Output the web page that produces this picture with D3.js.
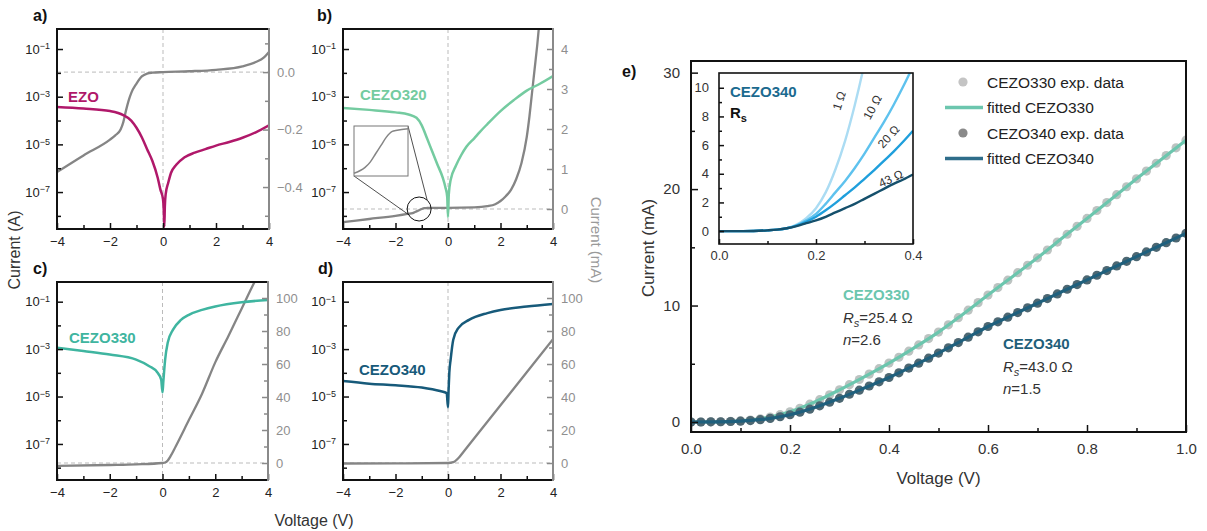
<!DOCTYPE html>
<html>
<head>
<meta charset="utf-8">
<script src="https://cdn.jsdelivr.net/npm/d3@7"></script>
<style>
  body { margin: 0; background: #fff; }
  svg text { font-family: "Liberation Sans", Arial, Helvetica, sans-serif; }
</style>
</head>
<body>
<svg id="fig" width="1207" height="531"></svg>
<script>

// ---- panel a) EZO ----
var voltA_log = [-4, -3, -2, -1.5, -1.2, -1, -0.8, -0.6, -0.4, -0.2, -0.1, 0, 0.03, 0.05, 0.07, 0.1, 0.2, 0.3, 0.5, 0.8, 1.2, 1.6, 2, 2.5, 3, 3.5, 4];
var ezoCurrent = [3.7e-4, 3.2e-4, 2.5e-4, 1.7e-4, 1.0e-4, 5.0e-5, 2.0e-5, 6.3e-6, 2.0e-6, 4.0e-7, 1.3e-7, 5.0e-8, 1.6e-8, 3.5e-9, 2.5e-8, 8.0e-8, 2.5e-7, 6.3e-7, 1.4e-6, 2.8e-6, 4.5e-6, 6.3e-6, 8.9e-6, 1.26e-5, 1.9e-5, 3.2e-5, 6.3e-5];
var voltA_lin = [-4, -3, -2, -1.8, -1.6, -1.5, -1.4, -1.3, -1.2, -1, -0.8, -0.6, -0.4, 0, 1, 2, 3, 3.5, 3.8, 4];
var ezoLinear = [-0.348, -0.29, -0.235, -0.22, -0.2, -0.175, -0.135, -0.1, -0.073, -0.04, -0.015, -0.005, -0.002, 0, 0.003, 0.008, 0.02, 0.035, 0.05, 0.07];

// ---- panel b) CEZO320 ----
var voltB_log = [-4, -3, -2, -1.5, -1.2, -1, -0.8, -0.6, -0.4, -0.2, -0.1, -0.03, 0, 0.03, 0.1, 0.3, 0.5, 0.7, 1, 1.2, 1.5, 2, 2.5, 3, 3.5, 4];
var cezo320Current = [3.4e-4, 2.8e-4, 2.2e-4, 1.8e-4, 1.3e-4, 6.3e-5, 1.8e-5, 5.0e-6, 1.4e-6, 4.0e-7, 1.6e-7, 6.3e-8, 9e-9, 8e-8, 3.2e-7, 1.26e-6, 3.5e-6, 7.9e-6, 1.8e-5, 3.2e-5, 7.1e-5, 2.5e-4, 7.1e-4, 1.8e-3, 3.5e-3, 7.4e-3];
var voltB_lin = [-4, -3, -2, -1.6, -1.4, -1.3, -1.2, -1.1, -1, -0.9, -0.8, -0.6, 0, 1, 1.5, 1.8, 2, 2.2, 2.4, 2.6, 2.8, 3, 3.1, 3.2, 3.3, 3.4, 3.5];
var cezo320Linear = [-0.33, -0.25, -0.17, -0.13, -0.11, -0.09, -0.06, -0.03, 0, 0.02, 0.025, 0.03, 0.03, 0.04, 0.07, 0.12, 0.2, 0.32, 0.48, 0.75, 1.15, 1.8, 2.3, 2.9, 3.5, 4.1, 4.8];

// ---- panel c) CEZO330 ----
var voltC_log = [-4, -3, -2, -1, -0.5, -0.2, -0.05, 0, 0.03, 0.06, 0.1, 0.2, 0.4, 0.7, 1, 1.5, 2, 3, 4];
var cezo330Current = [1.15e-3, 8.3e-4, 5.9e-4, 3.6e-4, 1.9e-4, 1.05e-4, 5.2e-5, 1.5e-5, 4.0e-5, 1.1e-4, 3.6e-4, 1.9e-3, 6.6e-3, 1.7e-2, 2.8e-2, 4.5e-2, 6.3e-2, 9.5e-2, 1.17e-1];
var voltC_lin = [-4, -2, -1, 0, 0.1, 0.2, 0.3, 0.5, 1, 1.5, 2, 2.5, 3, 3.5, 3.7];
var cezo330Linear = [-1.8, -1.2, -0.8, 0, 0.3, 1.5, 4, 10, 26, 42, 61, 77, 93.5, 110, 116];

// ---- panel d) CEZO340 ----
var voltD_log = [-4, -3, -2, -1, -0.3, -0.05, 0, 0.02, 0.05, 0.1, 0.2, 0.4, 0.8, 1.5, 2, 3, 4];
var cezo340Current = [4.5e-5, 3.5e-5, 3.0e-5, 2.4e-5, 1.7e-5, 1.4e-5, 3.5e-6, 1.6e-5, 1.0e-4, 3.6e-4, 2.5e-3, 7.9e-3, 1.7e-2, 3.3e-2, 4.5e-2, 6.2e-2, 7.9e-2];
var voltD_lin = [-4, -2, 0, 0.2, 0.4, 0.6, 1, 2, 3, 4];
var cezo340Linear = [-0.3, -0.2, 0, 0.5, 3, 7, 15, 35, 55, 75];

// ---- panel e) fits ----
var expVolt = [0, 0.02, 0.04, 0.06, 0.08, 0.1, 0.12, 0.14, 0.16, 0.18, 0.2, 0.22, 0.24, 0.26, 0.28, 0.3, 0.32, 0.34, 0.36, 0.38, 0.4,
  0.42, 0.44, 0.46, 0.48, 0.5, 0.52, 0.54, 0.56, 0.58, 0.6, 0.62, 0.64, 0.66, 0.68, 0.7, 0.72, 0.74, 0.76, 0.78, 0.8,
  0.82, 0.84, 0.86, 0.88, 0.9, 0.92, 0.94, 0.96, 0.98, 1.0];
var exp330 = [0, 0, 0.01, 0.02, 0.05, 0.1, 0.17, 0.28, 0.43, 0.63, 0.88, 1.18, 1.53, 1.92, 2.33, 2.76, 3.2, 3.65, 4.11, 4.58, 5.06,
  5.56, 6.08, 6.62, 7.16, 7.72, 8.34, 8.96, 9.6, 10.25, 10.9, 11.54, 12.18, 12.82, 13.46, 14.1, 14.77, 15.45, 16.12, 16.8, 17.48,
  18.16, 18.84, 19.52, 20.2, 20.88, 21.55, 22.22, 22.88, 23.54, 24.2];
var exp340 = [0, 0, 0.01, 0.02, 0.04, 0.07, 0.12, 0.2, 0.31, 0.45, 0.62, 0.84, 1.1, 1.39, 1.7, 2.03, 2.38, 2.73, 3.09, 3.45, 3.82,
  4.22, 4.63, 5.05, 5.48, 5.92, 6.37, 6.82, 7.28, 7.74, 8.2, 8.6, 9.0, 9.4, 9.8, 10.2, 10.6, 11.0, 11.4, 11.8, 12.2,
  12.6, 13.0, 13.4, 13.8, 14.2, 14.6, 15.0, 15.4, 15.8, 16.2];
var fitVolt = [0, 0.05, 0.1, 0.15, 0.2, 0.25, 0.3, 0.35, 0.4, 0.45, 0.5, 0.55, 0.6, 0.65, 0.7, 0.75, 0.8, 0.85, 0.9, 0.95, 1.0];
var fit330 = [0, 0.01, 0.1, 0.35, 0.88, 1.72, 2.76, 3.88, 5.06, 6.35, 7.72, 9.28, 10.9, 12.5, 14.1, 15.79, 17.48, 19.18, 20.88, 22.55, 24.2];
var fit340 = [0, 0.01, 0.07, 0.25, 0.62, 1.24, 2.03, 2.91, 3.82, 4.84, 5.92, 7.05, 8.2, 9.2, 10.2, 11.2, 12.2, 13.2, 14.2, 15.2, 16.2];

// inset: simulated CEZO340 for several series resistances
var insetVolt = [0, 0.05, 0.1, 0.12, 0.14, 0.16, 0.18, 0.2, 0.22, 0.24, 0.26, 0.28, 0.3, 0.32, 0.34, 0.36, 0.38, 0.4];
var rs1 = [0, 0, 0.05, 0.1, 0.2, 0.45, 0.9, 1.6, 2.7, 4.3, 6.3, 8.8, 11.7, 15, 18.5, 22, 26, 30];
var rs10 = [0, 0, 0.05, 0.1, 0.2, 0.4, 0.75, 1.2, 1.9, 2.7, 3.5, 4.4, 5.4, 6.5, 7.6, 8.8, 10.1, 11.5];
var rs20 = [0, 0, 0.05, 0.1, 0.2, 0.38, 0.65, 1.0, 1.45, 1.95, 2.5, 3.05, 3.65, 4.25, 4.9, 5.55, 6.25, 7.0];
var rs43 = [0, 0, 0.05, 0.1, 0.2, 0.35, 0.55, 0.75, 1.0, 1.3, 1.6, 1.9, 2.25, 2.6, 2.95, 3.3, 3.6, 3.95];
var rsLabels = ['1 Ω', '10 Ω', '20 Ω', '43 Ω'];
var rsColors = ['#abdcf3', '#5ec2ee', '#1f9fdc', '#15506c'];

var GREY = '#8a8a8a';
var svg = d3.select('#fig');

function minus(v) { return v < 0 ? '\u2212' + (-v) : '' + v; }

function styleAxis(a, color, size) {
  a.attr('font-family', null).attr('font-size', null);
  a.select('.domain').remove();
  a.selectAll('.tick line').attr('stroke', color).attr('stroke-width', 1.5);
  a.selectAll('.tick text').attr('fill', color === GREY ? '#8f8f8f' : '#222').style('font-size', size + 'px');
}

// small I-V panel with log left axis and linear right axis
function ivPanel(p) {
  var x = d3.scaleLinear().domain([-4, 4]).range([p.left, p.right]);
  var yLog = d3.scaleLog().domain(p.logDomain).range([p.bottom, p.top]);
  var yLin = d3.scaleLinear().domain(p.linDomain).range([p.bottom, p.top]);
  var g = svg.append('g');

  g.append('clipPath').attr('id', 'clip' + p.id).append('rect')
    .attr('x', p.left).attr('y', p.top).attr('width', p.right - p.left).attr('height', p.bottom - p.top);

  g.append('line').attr('x1', x(0)).attr('x2', x(0)).attr('y1', p.top).attr('y2', p.bottom)
    .attr('stroke', '#bbb').attr('stroke-dasharray', '4,3');
  g.append('line').attr('x1', p.left).attr('x2', p.right).attr('y1', yLin(0)).attr('y2', yLin(0))
    .attr('stroke', '#bbb').attr('stroke-dasharray', '4,3');

  var plot = g.append('g').attr('clip-path', 'url(#clip' + p.id + ')');
  plot.append('path')
    .datum(d3.zip(p.linV, p.linI))
    .attr('d', d3.line().x(d => x(d[0])).y(d => yLin(d[1])).curve(d3.curveMonotoneX))
    .attr('fill', 'none').attr('stroke', '#858585').attr('stroke-width', 2.3);
  plot.append('path')
    .datum(d3.zip(p.logV, p.logI))
    .attr('d', d3.line().x(d => x(d[0])).y(d => yLog(d[1])).curve(d3.curveMonotoneX))
    .attr('fill', 'none').attr('stroke', p.color).attr('stroke-width', 2.5);

  // axes
  var bottomMaj = g.append('g').attr('transform', `translate(0,${p.bottom})`)
    .call(d3.axisBottom(x).tickValues([-4, -2, 0, 2, 4]).tickSize(-6).tickPadding(8).tickFormat(minus));
  styleAxis(bottomMaj, '#111', 13);
  var bottomMin = g.append('g').attr('transform', `translate(0,${p.bottom})`)
    .call(d3.axisBottom(x).tickValues([-3, -1, 1, 3]).tickSize(-4).tickFormat(''));
  styleAxis(bottomMin, '#111', 13);

  var leftMaj = g.append('g').attr('transform', `translate(${p.left},0)`)
    .call(d3.axisLeft(yLog).tickValues([1e-1, 1e-3, 1e-5, 1e-7]).tickSize(-6).tickPadding(7).tickFormat(() => ''));
  styleAxis(leftMaj, '#111', 13);
  leftMaj.selectAll('.tick text').each(function (d) {
    var t = d3.select(this);
    t.append('tspan').text('10');
    t.append('tspan').attr('dy', '-0.5em').style('font-size', '9px').text('\u2212' + Math.round(-Math.log10(d)));
  });
  var leftMin = g.append('g').attr('transform', `translate(${p.left},0)`)
    .call(d3.axisLeft(yLog).tickValues([1e-2, 1e-4, 1e-6, 1e-8]).tickSize(-4).tickFormat(() => ''));
  styleAxis(leftMin, '#111', 13);

  var rightMaj = g.append('g').attr('transform', `translate(${p.right},0)`)
    .call(d3.axisRight(yLin).tickValues(p.rightMajor).tickSize(-6).tickPadding(8).tickFormat(p.rightFormat));
  styleAxis(rightMaj, GREY, 13);
  var rightMin = g.append('g').attr('transform', `translate(${p.right},0)`)
    .call(d3.axisRight(yLin).tickValues(p.rightMinor).tickSize(-4).tickFormat(''));
  styleAxis(rightMin, GREY, 13);

  // frame
  g.append('path').attr('d', `M${p.right},${p.top}H${p.left}V${p.bottom}H${p.right}`)
    .attr('fill', 'none').attr('stroke', '#111').attr('stroke-width', 2);
  g.append('line').attr('x1', p.right).attr('x2', p.right).attr('y1', p.top - 1).attr('y2', p.bottom + 1)
    .attr('stroke', GREY).attr('stroke-width', 2);

  g.append('text').attr('x', p.nameX).attr('y', p.nameY).attr('fill', p.color)
    .style('font-size', '15px').style('font-weight', 'bold').text(p.name);
  g.append('text').attr('x', p.tagX).attr('y', p.top - 8).attr('fill', '#111')
    .style('font-size', '16px').style('font-weight', 'bold').text(p.tag);

  return { x: x, yLin: yLin, g: g };
}

var pa = ivPanel({
  id: 'a', tag: 'a)', tagX: 33, name: 'EZO', nameX: 68, nameY: 102, color: '#b0186a',
  left: 57, right: 269, top: 29, bottom: 229,
  logDomain: [Math.pow(10, -8.55), Math.pow(10, -0.16)], linDomain: [-0.546, 0.15],
  rightMajor: [-0.4, -0.2, 0], rightMinor: [-0.5, -0.3, -0.1, 0.1],
  rightFormat: d => minus(d.toFixed(1)).replace('\u2212-', '\u2212').replace('-', '\u2212'),
  logV: voltA_log, logI: ezoCurrent, linV: voltA_lin, linI: ezoLinear
});

var pb = ivPanel({
  id: 'b', tag: 'b)', tagX: 317, name: 'CEZO320', nameX: 360, nameY: 100, color: '#74cba0',
  left: 343, right: 553, top: 29, bottom: 229,
  logDomain: [Math.pow(10, -8.55), Math.pow(10, -0.16)], linDomain: [-0.5, 4.5],
  rightMajor: [0, 1, 2, 3, 4], rightMinor: [0.5, 1.5, 2.5, 3.5],
  rightFormat: d => '' + d,
  logV: voltB_log, logI: cezo320Current, linV: voltB_lin, linI: cezo320Linear
});

ivPanel({
  id: 'c', tag: 'c)', tagX: 33, name: 'CEZO330', nameX: 69, nameY: 343, color: '#3fb5a0',
  left: 57, right: 268, top: 282, bottom: 480,
  logDomain: [Math.pow(10, -8.52), Math.pow(10, -0.17)], linDomain: [-10.3, 109.7],
  rightMajor: [0, 20, 40, 60, 80, 100], rightMinor: [10, 30, 50, 70, 90],
  rightFormat: d => '' + d,
  logV: voltC_log, logI: cezo330Current, linV: voltC_lin, linI: cezo330Linear
});

ivPanel({
  id: 'd', tag: 'd)', tagX: 318, name: 'CEZO340', nameX: 359, nameY: 375, color: '#175a7a',
  left: 343, right: 553, top: 282, bottom: 480,
  logDomain: [Math.pow(10, -8.52), Math.pow(10, -0.17)], linDomain: [-10.3, 109.7],
  rightMajor: [0, 20, 40, 60, 80, 100], rightMinor: [10, 30, 50, 70, 90],
  rightFormat: d => '' + d,
  logV: voltD_log, logI: cezo340Current, linV: voltD_lin, linI: cezo340Linear
});

// magnifier in panel b
(function () {
  var rect = { x0: 354, x1: 408, y0: 126, y1: 176 };
  var zx = d3.scaleLinear().domain([-1.6, -0.6]).range([rect.x0, rect.x1]);
  var zy = d3.scaleLinear().domain([-0.14, 0.04]).range([rect.y1, rect.y0]);
  var pts = d3.zip(voltB_lin, cezo320Linear).filter(d => d[0] >= -1.6 && d[0] <= -0.6);
  var cx = pb.x(-1.1), cy = pb.yLin(0);
  var g = pb.g.append('g');
  g.append('line').attr('x1', rect.x0).attr('y1', rect.y1).attr('x2', cx - 10).attr('y2', cy + 6)
    .attr('stroke', '#222').attr('stroke-width', 0.8);
  g.append('line').attr('x1', rect.x1).attr('y1', rect.y0).attr('x2', cx + 8).attr('y2', cy - 9)
    .attr('stroke', '#222').attr('stroke-width', 0.8);
  g.append('rect').attr('x', rect.x0).attr('y', rect.y0).attr('width', rect.x1 - rect.x0).attr('height', rect.y1 - rect.y0)
    .attr('fill', '#fff').attr('stroke', '#777').attr('stroke-width', 1);
  g.append('path').datum(pts)
    .attr('d', d3.line().x(d => zx(d[0])).y(d => zy(d[1])).curve(d3.curveMonotoneX))
    .attr('fill', 'none').attr('stroke', '#858585').attr('stroke-width', 1.5);
  g.append('circle').attr('cx', cx).attr('cy', cy).attr('r', 12)
    .attr('fill', 'none').attr('stroke', '#111').attr('stroke-width', 1);
})();

// shared labels for a-d
svg.append('text').attr('transform', 'translate(20,250) rotate(-90)').attr('text-anchor', 'middle')
  .attr('fill', '#333').style('font-size', '16px').text('Current (A)');
svg.append('text').attr('transform', 'translate(591,240) rotate(90)').attr('text-anchor', 'middle')
  .attr('fill', '#9a9a9a').style('font-size', '15px').text('Current (mA)');
svg.append('text').attr('x', 314).attr('y', 526).attr('text-anchor', 'middle')
  .attr('fill', '#333').style('font-size', '16px').text('Voltage (V)');

// ---- panel e ----
var E = { left: 691, right: 1186, top: 61, bottom: 432 };
var xE = d3.scaleLinear().domain([0, 1]).range([E.left, E.right]);
var yE = d3.scaleLinear().domain([-0.86, 31.0]).range([E.bottom, E.top]);
var ge = svg.append('g');
ge.append('clipPath').attr('id', 'clipE').append('rect')
  .attr('x', E.left).attr('y', E.top).attr('width', E.right - E.left).attr('height', E.bottom - E.top);

var pe = ge.append('g').attr('clip-path', 'url(#clipE)');
var lineE = d3.line().x(d => xE(d[0])).y(d => yE(d[1])).curve(d3.curveMonotoneX);

pe.append('g').selectAll('circle').data(d3.zip(expVolt, exp330)).enter().append('circle')
  .attr('cx', d => xE(d[0])).attr('cy', d => yE(d[1])).attr('r', 4.6).attr('fill', '#bcc3c1');
pe.append('path').datum(d3.zip(fitVolt, fit330)).attr('d', lineE)
  .attr('fill', 'none').attr('stroke', '#6cc6ae').attr('stroke-width', 3.2);
pe.append('g').selectAll('circle').data(d3.zip(expVolt, exp340)).enter().append('circle')
  .attr('cx', d => xE(d[0])).attr('cy', d => yE(d[1])).attr('r', 4.6).attr('fill', '#4d6772');
pe.append('path').datum(d3.zip(fitVolt, fit340)).attr('d', lineE)
  .attr('fill', 'none').attr('stroke', '#1f607d').attr('stroke-width', 3.2);

var exMaj = ge.append('g').attr('transform', `translate(0,${E.bottom})`)
  .call(d3.axisBottom(xE).tickValues([0, 0.2, 0.4, 0.6, 0.8, 1.0]).tickSize(-7).tickPadding(11).tickFormat(d3.format('.1f')));
styleAxis(exMaj, '#111', 15);
var exMin = ge.append('g').attr('transform', `translate(0,${E.bottom})`)
  .call(d3.axisBottom(xE).tickValues([0.1, 0.3, 0.5, 0.7, 0.9]).tickSize(-4).tickFormat(''));
styleAxis(exMin, '#111', 15);
var eyMaj = ge.append('g').attr('transform', `translate(${E.left},0)`)
  .call(d3.axisLeft(yE).tickValues([0, 10, 20, 30]).tickSize(-7).tickPadding(11));
styleAxis(eyMaj, '#111', 15);
var eyMin = ge.append('g').attr('transform', `translate(${E.left},0)`)
  .call(d3.axisLeft(yE).tickValues([5, 15, 25]).tickSize(-4).tickFormat(''));
styleAxis(eyMin, '#111', 15);
ge.selectAll('.tick text').attr('fill', '#333');

ge.append('rect').attr('x', E.left).attr('y', E.top).attr('width', E.right - E.left).attr('height', E.bottom - E.top)
  .attr('fill', 'none').attr('stroke', '#111').attr('stroke-width', 2);

ge.append('text').attr('x', 622).attr('y', 77).attr('fill', '#111')
  .style('font-size', '16px').style('font-weight', 'bold').text('e)');
ge.append('text').attr('transform', 'translate(654,248) rotate(-90)').attr('text-anchor', 'middle')
  .attr('fill', '#333').style('font-size', '17px').text('Current (mA)');
ge.append('text').attr('x', (E.left + E.right) / 2).attr('y', 484).attr('text-anchor', 'middle')
  .attr('fill', '#333').style('font-size', '17px').text('Voltage (V)');

// legend
var legend = [
  { label: 'CEZO330 exp. data', type: 'dot', color: '#c4c4c4' },
  { label: 'fitted CEZO330', type: 'line', color: '#6cc6ae' },
  { label: 'CEZO340 exp. data', type: 'dot', color: '#8a8a8a' },
  { label: 'fitted CEZO340', type: 'line', color: '#2f6d8a' }
];
var lg = ge.append('g').attr('transform', 'translate(963,82)');
legend.forEach(function (d, i) {
  var row = lg.append('g').attr('transform', `translate(0,${i * 25.5})`);
  if (d.type === 'dot') row.append('circle').attr('r', 4.6).attr('fill', d.color);
  else row.append('line').attr('x1', -18).attr('x2', 20).attr('stroke', d.color).attr('stroke-width', 3.5);
  row.append('text').attr('x', 24).attr('y', 5.5).attr('fill', '#222').style('font-size', '15.5px').text(d.label);
});

// annotations
function annot(x, y, name, color, rs, n) {
  var a = ge.append('g');
  a.append('text').attr('x', x).attr('y', y).attr('fill', color)
    .style('font-size', '15px').style('font-weight', 'bold').text(name);
  var t = a.append('text').attr('x', x).attr('y', y + 23).attr('fill', '#333').style('font-size', '15px');
  t.append('tspan').style('font-style', 'italic').text('R');
  t.append('tspan').style('font-style', 'italic').style('font-size', '11px').attr('dy', 4).text('s');
  t.append('tspan').attr('dy', -4).text('=' + rs + ' Ω');
  var u = a.append('text').attr('x', x).attr('y', y + 45).attr('fill', '#333').style('font-size', '15px');
  u.append('tspan').style('font-style', 'italic').text('n');
  u.append('tspan').text('=' + n);
}
annot(843, 300, 'CEZO330', '#6cc6ae', '25.4', '2.6');
annot(1003, 349, 'CEZO340', '#1f5f7a', '43.0', '1.5');

// ---- inset ----
var I = { left: 719, right: 913, top: 73, bottom: 244 };
var xI = d3.scaleLinear().domain([0, 0.4]).range([I.left, I.right]);
var yI = d3.scaleLinear().domain([-0.9, 11.03]).range([I.bottom, I.top]);
var gi = svg.append('g');
gi.append('rect').attr('x', I.left).attr('y', I.top).attr('width', I.right - I.left).attr('height', I.bottom - I.top)
  .attr('fill', '#fff');
gi.append('clipPath').attr('id', 'clipI').append('rect')
  .attr('x', I.left).attr('y', I.top).attr('width', I.right - I.left).attr('height', I.bottom - I.top);
var pi = gi.append('g').attr('clip-path', 'url(#clipI)');
var lineI = d3.line().x(d => xI(d[0])).y(d => yI(d[1])).curve(d3.curveMonotoneX);
[rs1, rs10, rs20, rs43].forEach(function (s, i) {
  pi.append('path').datum(d3.zip(insetVolt, s)).attr('d', lineI)
    .attr('fill', 'none').attr('stroke', rsColors[i]).attr('stroke-width', 2.4);
});

var ixMaj = gi.append('g').attr('transform', `translate(0,${I.bottom})`)
  .call(d3.axisBottom(xI).tickValues([0, 0.2, 0.4]).tickSize(-5).tickPadding(7).tickFormat(d3.format('.1f')));
styleAxis(ixMaj, '#111', 13);
var ixMin = gi.append('g').attr('transform', `translate(0,${I.bottom})`)
  .call(d3.axisBottom(xI).tickValues([0.1, 0.3]).tickSize(-3).tickFormat(''));
styleAxis(ixMin, '#111', 13);
var iyMaj = gi.append('g').attr('transform', `translate(${I.left},0)`)
  .call(d3.axisLeft(yI).tickValues([0, 2, 4, 6, 8, 10]).tickSize(-5).tickPadding(10));
styleAxis(iyMaj, '#111', 13);
var iyMin = gi.append('g').attr('transform', `translate(${I.left},0)`)
  .call(d3.axisLeft(yI).tickValues([1, 3, 5, 7, 9]).tickSize(-3).tickFormat(''));
styleAxis(iyMin, '#111', 13);
gi.selectAll('.tick text').attr('fill', '#333');
gi.append('rect').attr('x', I.left).attr('y', I.top).attr('width', I.right - I.left).attr('height', I.bottom - I.top)
  .attr('fill', 'none').attr('stroke', '#111').attr('stroke-width', 1.6);

gi.append('text').attr('x', 730).attr('y', 97).attr('fill', '#1b6a8f')
  .style('font-size', '15px').style('font-weight', 'bold').text('CEZO340');
var rsT = gi.append('text').attr('x', 730).attr('y', 118).attr('fill', '#111')
  .style('font-size', '15px').style('font-weight', 'bold');
rsT.append('tspan').text('R');
rsT.append('tspan').attr('dy', 4).style('font-size', '11px').text('s');

// rotated resistance labels, placed in data units of the inset
var rsLabelPos = [[0.256, 9.0, -72], [0.324, 8.5, -62], [0.356, 6.4, -48], [0.358, 3.4, -25]];
rsLabelPos.forEach(function (p, i) {
  gi.append('text').attr('transform', `translate(${xI(p[0])},${yI(p[1])}) rotate(${p[2]})`)
    .attr('text-anchor', 'middle').attr('fill', '#333').style('font-size', '12px').text(rsLabels[i]);
});

</script>
</body>
</html>
